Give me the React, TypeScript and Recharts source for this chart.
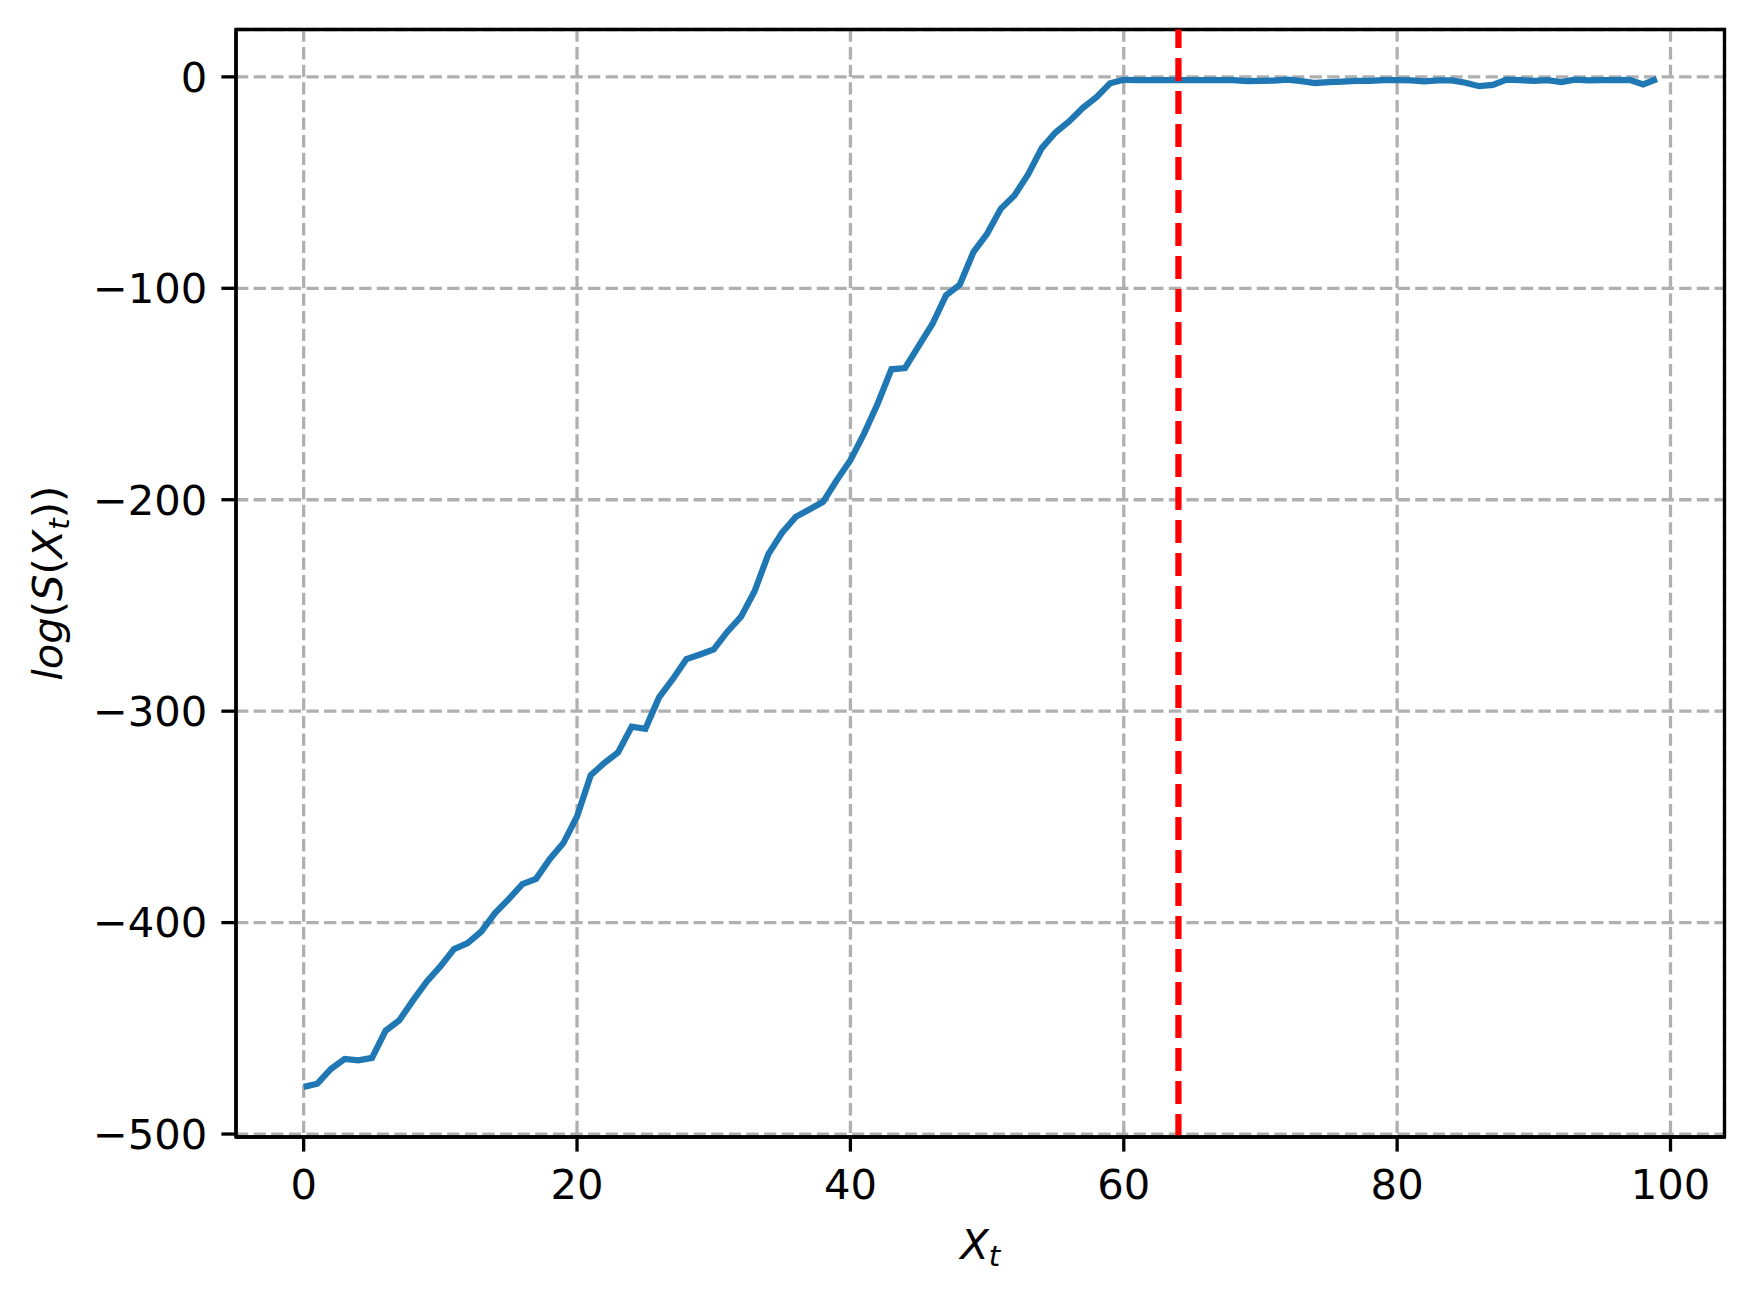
import { LineChart, Line, XAxis, YAxis, CartesianGrid, ReferenceLine, ReferenceArea, Label } from "recharts"

// log(S(X_t)) per step t = 0..99
const logScores = [
  -477.7, -476.2, -469.2, -464.5, -465.1, -464.0, -451.1, -446.2, -436.8, -427.9,
  -420.7, -412.5, -409.7, -404.2, -395.5, -388.9, -381.8, -379.3, -370.0, -362.4,
  -349.8, -330.3, -324.5, -319.5, -307.3, -308.3, -293.5, -284.9, -275.4, -273.2,
  -270.8, -262.4, -255.3, -243.1, -225.7, -215.6, -208.1, -204.6, -201.0, -190.8,
  -181.3, -168.7, -154.5, -138.3, -137.7, -127.2, -116.9, -103.3, -98.3, -82.9,
  -74.2, -62.4, -56.1, -46.2, -33.7, -26.3, -21.1, -14.7, -9.6, -3.0,
  -1.4, -1.5, -1.5, -1.5, -1.5, -1.5, -1.5, -1.6, -1.6, -2.0,
  -1.9, -1.8, -1.3, -2.0, -2.9, -2.5, -2.2, -1.9, -1.9, -1.6,
  -1.5, -1.7, -2.1, -1.7, -1.7, -2.8, -4.4, -3.8, -1.3, -1.6,
  -1.9, -1.6, -2.5, -1.3, -1.7, -1.6, -1.6, -1.4, -3.6, -1.0,
]

const xTicks = [0, 20, 40, 60, 80, 100]
const yTicks = [-500, -400, -300, -200, -100, 0]
const thresholdX = 64

const data = logScores.map((v, i) => ({ t: i, score: v }))

const X_DOMAIN: [number, number] = [-4.95, 103.95]
const Y_DOMAIN: [number, number] = [-501.4, 22.4]

const FONT = "'DejaVu Sans', sans-serif"
const FS = 41.7
const SUB = 29.2

const fmt = (v: number) => (v < 0 ? `\u2212${Math.abs(v)}` : `${v}`)

const tickStyle = { fontFamily: FONT, fontSize: FS, fill: "#000" }

function XLabel(props: any) {
  const vb = props.viewBox
  const cx = vb.x + vb.width / 2
  return (
    <text x={cx} y={vb.y + 122} textAnchor="middle" fontFamily={FONT} fontSize={FS} fill="#000">
      <tspan fontStyle="italic">X</tspan>
      <tspan fontStyle="italic" fontSize={SUB} dy={7}>t</tspan>
    </text>
  )
}

function YLabel(props: any) {
  const vb = props.viewBox
  const cy = vb.y + vb.height / 2
  const x = 62
  return (
    <text
      x={x}
      y={cy}
      transform={`rotate(-90 ${x} ${cy})`}
      textAnchor="middle"
      fontFamily={FONT}
      fontSize={FS}
      fill="#000"
    >
      <tspan fontStyle="italic">log</tspan>
      <tspan>(</tspan>
      <tspan fontStyle="italic">S</tspan>
      <tspan>(</tspan>
      <tspan fontStyle="italic">X</tspan>
      <tspan fontStyle="italic" fontSize={SUB} dy={7}>t</tspan>
      <tspan dy={-7}>))</tspan>
    </text>
  )
}

export default function App() {
  return (
    <div style={{ position: "absolute", left: 0, top: 0, background: "#fff" }}>
      <LineChart
        width={1754}
        height={1298}
        data={data}
        margin={{ top: 29.5, right: 29.5, left: 36, bottom: 21 }}
      >
        <CartesianGrid stroke="#b0b0b0" strokeWidth={3.3} strokeDasharray="12.3 5.3" />
        <XAxis
          dataKey="t"
          type="number"
          domain={X_DOMAIN}
          ticks={xTicks}
          allowDataOverflow
          height={140}
          tickSize={14.6}
          tickMargin={18}
          tick={tickStyle}
          tickLine={{ stroke: "#000", strokeWidth: 3.3 }}
          axisLine={{ stroke: "#000", strokeWidth: 3.3 }}
          tickFormatter={fmt}
        >
          <Label content={XLabel} />
        </XAxis>
        <YAxis
          type="number"
          domain={Y_DOMAIN}
          ticks={yTicks}
          allowDataOverflow
          width={200}
          tickSize={14.6}
          tickMargin={14}
          tick={tickStyle}
          tickLine={{ stroke: "#000", strokeWidth: 3.3 }}
          axisLine={{ stroke: "#000", strokeWidth: 3.3 }}
          tickFormatter={fmt}
        >
          <Label content={YLabel} />
        </YAxis>
        <Line
          type="linear"
          dataKey="score"
          stroke="#1f77b4"
          strokeWidth={6.25}
          dot={false}
          activeDot={false}
          isAnimationActive={false}
        />
        <ReferenceLine x={thresholdX} stroke="#ff0000" strokeWidth={6.25} strokeDasharray="23 10" />
        <ReferenceArea
          x1={X_DOMAIN[0]}
          x2={X_DOMAIN[1]}
          y1={Y_DOMAIN[0]}
          y2={Y_DOMAIN[1]}
          fill="none"
          fillOpacity={0}
          stroke="#000"
          strokeWidth={3.3}
        />
      </LineChart>
    </div>
  )
}
